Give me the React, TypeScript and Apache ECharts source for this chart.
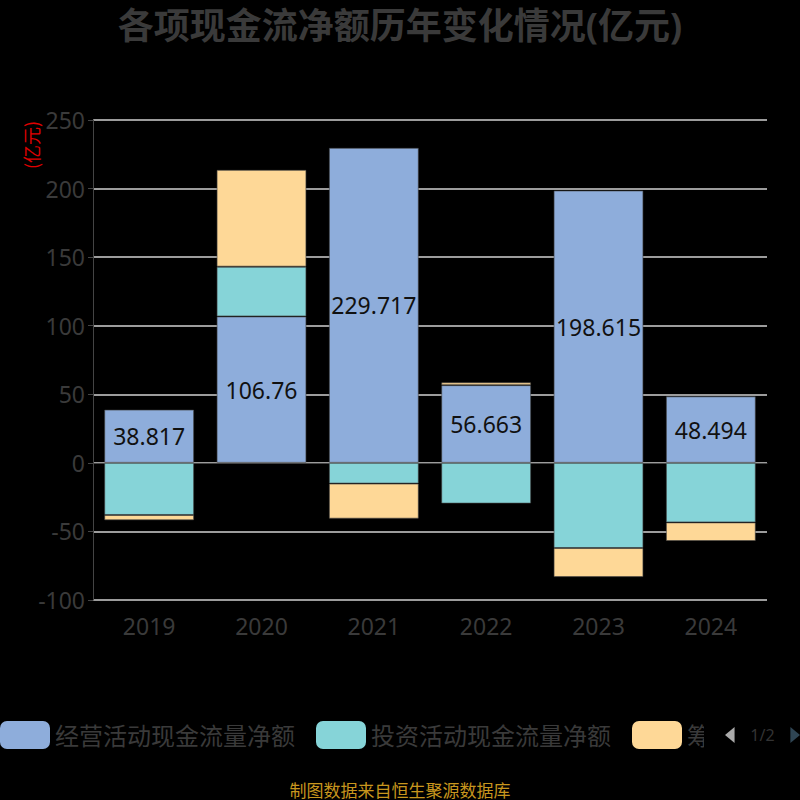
import React, { useEffect, useRef } from "react";
import * as echarts from "echarts";

const years = ["2019", "2020", "2021", "2022", "2023", "2024"];
const operating = [38.817, 106.76, 229.717, 56.663, 198.615, 48.494];
const investing = [-38.0, 36.3, -15.1, -29.7, -62.1, -43.4];
const financing = [-3.9, 70.6, -25.6, 2.1, -21.2, -13.6];
const seriesNames = ["经营活动现金流量净额", "投资活动现金流量净额", "筹资活动现金流量净额"];
const colors = ["#8eaddb", "#86d4d8", "#fed897"];

export default function App() {
  const ref = useRef<HTMLDivElement>(null);
  useEffect(() => {
    document.body.style.margin = "0";
    const chart = echarts.init(ref.current!, null, { renderer: "svg" });
    const font = "'Noto Sans', 'Noto Sans CJK SC', sans-serif";
    const mk = (i: number, data: number[], label: boolean) => ({
      name: seriesNames[i],
      type: "bar",
      stack: "total",
      barWidth: "80%",
      data,
      itemStyle: { color: colors[i], borderColor: "rgba(70,70,70,0.6)", borderWidth: 1 },
      label: label
        ? { show: true, position: "inside", color: "#111", fontSize: 23, fontFamily: font }
        : { show: false },
    });
    chart.setOption({
      animation: false,
      backgroundColor: "#000",
      textStyle: { fontFamily: font },
      title: {
        text: "各项现金流净额历年变化情况(亿元)",
        left: "center",
        top: 2,
        textStyle: { color: "#3a3a3a", fontSize: 36, fontWeight: "bold", fontFamily: font },
      },
      grid: { left: 93, right: 33, top: 120, bottom: 200 },
      legend: {
        type: "scroll",
        left: 0,
        right: 0,
        top: 716,
        padding: [5, 0],
        itemWidth: 50,
        itemHeight: 28,
        itemGap: 21,
        itemTextGap: 10,
        icon: "roundRect",
        itemStyle: { borderWidth: 0 },
        textStyle: { color: "#3a3a3a", fontSize: 24, fontFamily: font },
        pageIconColor: "#2f4554",
        pageIconInactiveColor: "#aaa",
        pageIconSize: 16,
        pageButtonItemGap: 8,
        pageTextStyle: { color: "#333", fontSize: 16 },
        data: seriesNames,
      },
      xAxis: {
        type: "category",
        data: years,
        axisLine: { lineStyle: { color: "#444" } },
        axisTick: { lineStyle: { color: "#444" } },
        axisLabel: { color: "#3a3a3a", fontSize: 23, margin: 14 },
      },
      yAxis: {
        type: "value",
        min: -100,
        max: 250,
        interval: 50,
        axisLine: { show: true, lineStyle: { color: "#444" } },
        axisTick: { show: true, lineStyle: { color: "#444" } },
        axisLabel: { color: "#3a3a3a", fontSize: 23 },
        splitLine: { lineStyle: { color: "#d0d0d0", width: 1.5 } },
      },
      graphic: [
        {
          type: "text",
          x: 31,
          y: 145,
          rotation: Math.PI / 2,
          style: {
            text: "(亿元)",
            fill: "#e00000",
            fontSize: 18,
            fontFamily: "'Noto Sans CJK SC', sans-serif",
            textAlign: "center",
            textVerticalAlign: "middle",
          },
        },
        {
          type: "text",
          x: 400,
          y: 789,
          style: {
            text: "制图数据来自恒生聚源数据库",
            fill: "#c8961e",
            fontSize: 17,
            fontFamily: "'Noto Sans CJK SC', sans-serif",
            textAlign: "center",
            textVerticalAlign: "middle",
          },
        },
      ],
      series: [mk(0, operating, true), mk(1, investing, false), mk(2, financing, false)],
    });
    return () => chart.dispose();
  }, []);
  return <div ref={ref} style={{ width: 800, height: 800 }} />;
}
